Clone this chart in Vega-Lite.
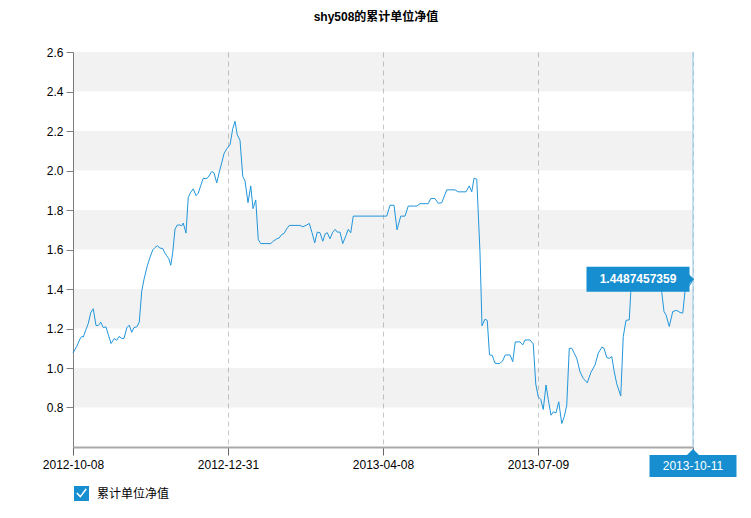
{
  "$schema": "https://vega.github.io/schema/vega-lite/v6.json",
  "width": 620,
  "height": 395,
  "autosize": {"type": "none"},
  "padding": {"left": 73, "top": 52, "right": 58, "bottom": 71},
  "background": "white",
  "title": {"text": "shy508的累计单位净值", "fontSize": 12, "fontWeight": "bold", "font": "Liberation Sans, Noto Sans CJK SC, sans-serif", "color": "#000", "offset": 22, "anchor": "middle", "dx": -7},
  "config": {"view": {"stroke": null}, "font": "Liberation Sans, Noto Sans CJK SC, sans-serif"},
  "datasets": {
    "nav": [
      {"t":0,"v":1.076},{"t":1.5,"v":1.11},{"t":2.8,"v":1.147},{"t":3.5,"v":1.16},{"t":4.1,"v":1.157},{"t":5.2,"v":1.195},{"t":6.1,"v":1.225},{"t":7.1,"v":1.28},{"t":8.1,"v":1.3},{"t":9.2,"v":1.215},
      {"t":10.1,"v":1.215},{"t":11.1,"v":1.232},{"t":12.1,"v":1.205},{"t":13.2,"v":1.208},{"t":14.1,"v":1.17},{"t":15.2,"v":1.124},{"t":16.5,"v":1.149},{"t":17.5,"v":1.14},{"t":18.4,"v":1.16},{"t":19.5,"v":1.149},
      {"t":20.4,"v":1.15},{"t":21.5,"v":1.203},{"t":22.5,"v":1.217},{"t":23.5,"v":1.181},{"t":24.4,"v":1.205},{"t":25.5,"v":1.208},{"t":26.5,"v":1.232},{"t":27.5,"v":1.39},{"t":28.4,"v":1.449},{"t":29.7,"v":1.517},
      {"t":30.8,"v":1.56},{"t":31.9,"v":1.598},{"t":32.8,"v":1.61},{"t":33.7,"v":1.619},{"t":34.8,"v":1.607},{"t":35.9,"v":1.605},{"t":36.8,"v":1.581},{"t":37.5,"v":1.568},{"t":38.3,"v":1.554},{"t":39.1,"v":1.52},
      {"t":39.9,"v":1.585},{"t":40.8,"v":1.703},{"t":41.7,"v":1.724},{"t":42.8,"v":1.724},{"t":43.5,"v":1.72},{"t":44.1,"v":1.734},{"t":45.2,"v":1.683},{"t":46.1,"v":1.864},{"t":47.1,"v":1.89},{"t":48.1,"v":1.907},
      {"t":49.2,"v":1.873},{"t":50.1,"v":1.885},{"t":51.1,"v":1.924},{"t":52.1,"v":1.961},{"t":53.2,"v":1.958},{"t":54.1,"v":1.966},{"t":55.5,"v":1.995},{"t":56.4,"v":1.988},{"t":57.5,"v":1.937},{"t":58.5,"v":1.992},
      {"t":59.5,"v":2.039},{"t":60.4,"v":2.085},{"t":61.5,"v":2.11},{"t":62.8,"v":2.13},{"t":63.9,"v":2.212},{"t":64.8,"v":2.249},{"t":65.7,"v":2.181},{"t":66.8,"v":2.153},{"t":67.9,"v":1.97},{"t":68.8,"v":1.947},
      {"t":70,"v":1.837},{"t":71.1,"v":1.922},{"t":72,"v":1.807},{"t":73.1,"v":1.851},{"t":74.1,"v":1.651},{"t":75.1,"v":1.63},{"t":76.8,"v":1.63},{"t":79.1,"v":1.63},{"t":80.1,"v":1.642},{"t":81.5,"v":1.654},
      {"t":82.5,"v":1.659},{"t":83.5,"v":1.676},{"t":84.4,"v":1.681},{"t":85.5,"v":1.705},{"t":86.5,"v":1.722},{"t":88.8,"v":1.722},{"t":90.8,"v":1.722},{"t":91.9,"v":1.715},{"t":93.2,"v":1.722},{"t":94.5,"v":1.732},
      {"t":95.6,"v":1.685},{"t":96.7,"v":1.634},{"t":97.7,"v":1.688},{"t":98.8,"v":1.685},{"t":99.9,"v":1.642},{"t":100.9,"v":1.68},{"t":101.7,"v":1.685},{"t":102.8,"v":1.654},{"t":103.9,"v":1.688},{"t":104.9,"v":1.702},
      {"t":105.7,"v":1.688},{"t":106.8,"v":1.688},{"t":107.9,"v":1.63},{"t":109.2,"v":1.671},{"t":110.1,"v":1.702},{"t":111.1,"v":1.685},{"t":112.1,"v":1.769},{"t":116,"v":1.769},{"t":120,"v":1.769},{"t":124,"v":1.769},
      {"t":125.5,"v":1.769},{"t":126.8,"v":1.824},{"t":128.4,"v":1.824},{"t":129.6,"v":1.7},{"t":131.1,"v":1.769},{"t":132.8,"v":1.769},{"t":134.1,"v":1.82},{"t":137.5,"v":1.82},{"t":138.8,"v":1.832},{"t":142.1,"v":1.832},
      {"t":143.1,"v":1.858},{"t":144.8,"v":1.858},{"t":146.1,"v":1.834},{"t":147.5,"v":1.837},{"t":149.5,"v":1.902},{"t":152.8,"v":1.902},{"t":154.1,"v":1.892},{"t":157.2,"v":1.892},{"t":158.5,"v":1.922},{"t":159.5,"v":1.892},
      {"t":160.4,"v":1.961},{"t":161.5,"v":1.956},{"t":162.8,"v":1.583},{"t":163.6,"v":1.214},{"t":164.8,"v":1.247},{"t":165.7,"v":1.241},{"t":166.6,"v":1.066},{"t":167.7,"v":1.064},{"t":168.8,"v":1.024},{"t":170.5,"v":1.022},
      {"t":171.8,"v":1.035},{"t":172.9,"v":1.066},{"t":174.8,"v":1.066},{"t":175.9,"v":1.032},{"t":176.9,"v":1.132},{"t":178.8,"v":1.132},{"t":179.9,"v":1.117},{"t":180.8,"v":1.142},{"t":182.8,"v":1.142},{"t":184.1,"v":1.122},
      {"t":185.1,"v":0.919},{"t":186.1,"v":0.854},{"t":187.1,"v":0.841},{"t":188.1,"v":0.79},{"t":189.2,"v":0.914},{"t":190.1,"v":0.841},{"t":191.2,"v":0.761},{"t":192.1,"v":0.778},{"t":193.2,"v":0.773},{"t":194.3,"v":0.829},
      {"t":195.5,"v":0.719},{"t":196.5,"v":0.753},{"t":197.5,"v":0.812},{"t":198.5,"v":1.1},{"t":199.5,"v":1.1},{"t":200.5,"v":1.075},{"t":201.5,"v":1.049},{"t":202.8,"v":0.981},{"t":204.1,"v":0.947},{"t":205.7,"v":0.925},
      {"t":207.1,"v":0.976},{"t":208.8,"v":1.015},{"t":210.1,"v":1.075},{"t":211.5,"v":1.105},{"t":212.4,"v":1.1},{"t":213.5,"v":1.053},{"t":214.5,"v":1.049},{"t":215.5,"v":1.058},{"t":216.5,"v":0.981},{"t":217.5,"v":0.92},
      {"t":219.1,"v":0.858},{"t":220.1,"v":1.159},{"t":221.2,"v":1.241},{"t":222.5,"v":1.244},{"t":223.1,"v":1.383},{"t":224.3,"v":1.46},{"t":226,"v":1.48},{"t":228,"v":1.47},{"t":230,"v":1.49},{"t":232,"v":1.47},
      {"t":234,"v":1.44},{"t":235.5,"v":1.383},{"t":236.4,"v":1.286},{"t":237.2,"v":1.269},{"t":238.5,"v":1.21},{"t":239.9,"v":1.286},{"t":241.5,"v":1.292},{"t":242.8,"v":1.281},{"t":243.9,"v":1.278},{"t":244.8,"v":1.388},
      {"t":245.7,"v":1.41},{"t":246.8,"v":1.42},{"t":248,"v":1.4487457359}
    ],
    "bands": [
      {"lo":0.8,"hi":1.0},{"lo":1.2,"hi":1.4},{"lo":1.6,"hi":1.8},{"lo":2.0,"hi":2.2},{"lo":2.4,"hi":2.6}
    ]
  },
  "data": {"name": "nav"},
  "layer": [
    {
      "data": {"name": "bands"},
      "mark": {"type": "rect", "color": "black", "opacity": 0.05},
      "encoding": {
        "x": {"datum": 0, "type": "quantitative"},
        "x2": {"datum": 248},
        "y": {"field": "lo", "type": "quantitative"},
        "y2": {"field": "hi"}
      }
    },
    {
      "mark": {"type": "line", "strokeWidth": 1},
      "encoding": {
        "x": {
          "field": "t", "type": "quantitative",
          "scale": {"domain": [0, 248], "nice": false, "zero": false},
          "axis": {
            "values": [0, 62, 124, 186, 248],
            "labelExpr": "datum.value == 0 ? '2012-10-08' : datum.value == 62 ? '2012-12-31' : datum.value == 124 ? '2013-04-08' : datum.value == 186 ? '2013-07-09' : ''",
            "title": null, "grid": true, "gridDash": [5, 4], "gridColor": "#c8c8c8",
            "domainColor": "#a9a9a9", "domainWidth": 2, "tickColor": "#666", "tickSize": 8,
            "labelFontSize": 12, "labelColor": "#000", "labelPadding": 4, "labelFlush": false, "labelOverlap": false
          }
        },
        "y": {
          "field": "v", "type": "quantitative",
          "scale": {"domain": [0.6, 2.6], "nice": false, "zero": false},
          "axis": {
            "values": [0.8, 1.0, 1.2, 1.4, 1.6, 1.8, 2.0, 2.2, 2.4, 2.6], "format": ".1f",
            "title": null, "grid": false, "domainColor": "#808080", "tickColor": "#808080", "tickSize": 7,
            "labelPadding": 3, "labelFontSize": 12, "labelColor": "#000"
          }
        },
        "color": {
          "datum": "累计单位净值",
          "scale": {"range": ["#2196db"]},
          "legend": {
            "orient": "none", "legendX": 1, "legendY": 434, "title": null, "padding": 0,
            "symbolType": "M-1,-1H1V1H-1Z M-0.7,0L-0.15,0.55L0.7,-0.55L0.55,-0.7L-0.15,0.25L-0.55,-0.15Z",
            "symbolSize": 225, "symbolFillColor": "#168ecf", "symbolStrokeWidth": 0,
            "labelFontSize": 12, "labelColor": "#000", "labelOffset": 8,
            "encode": {"symbols": {"update": {"fill": {"value": "#168ecf"}, "stroke": {"value": "transparent"}, "opacity": {"value": 1}}}}
          }
        }
      }
    },
    {
      "transform": [{"filter": "datum.t == 248"}],
      "mark": {"type": "rule", "color": "#8ec5ea", "strokeWidth": 1},
      "encoding": {"x": {"field": "t", "type": "quantitative"}}
    },
    {
      "transform": [{"filter": "datum.t == 248"}],
      "mark": {"type": "rect", "color": "#168ecf", "width": 103, "height": 25, "xOffset": -55, "opacity": 1},
      "encoding": {"x": {"field": "t", "type": "quantitative"}, "y": {"field": "v", "type": "quantitative"}}
    },
    {
      "transform": [{"filter": "datum.t == 248"}],
      "mark": {"type": "point", "shape": "M0,-1L1,0L0,1Z", "size": 144, "filled": true, "color": "#168ecf", "opacity": 1, "xOffset": -5},
      "encoding": {"x": {"field": "t", "type": "quantitative"}, "y": {"field": "v", "type": "quantitative"}}
    },
    {
      "transform": [{"filter": "datum.t == 248"}],
      "mark": {"type": "text", "color": "white", "fontWeight": "bold", "fontSize": 12, "dx": -55, "align": "center", "baseline": "middle"},
      "encoding": {"x": {"field": "t", "type": "quantitative"}, "y": {"field": "v", "type": "quantitative"}, "text": {"field": "v", "type": "nominal"}}
    },
    {
      "transform": [{"filter": "datum.t == 248"}],
      "mark": {"type": "rect", "color": "#168ecf", "width": 87, "height": 22, "yOffset": 19, "opacity": 1},
      "encoding": {"x": {"field": "t", "type": "quantitative"}, "y": {"datum": 0.6, "type": "quantitative"}}
    },
    {
      "transform": [{"filter": "datum.t == 248"}],
      "mark": {"type": "point", "shape": "M-1,0L0,-1L1,0Z", "size": 144, "filled": true, "color": "#168ecf", "opacity": 1, "yOffset": 8},
      "encoding": {"x": {"field": "t", "type": "quantitative"}, "y": {"datum": 0.6, "type": "quantitative"}}
    },
    {
      "transform": [{"filter": "datum.t == 248"}],
      "mark": {"type": "text", "color": "white", "fontSize": 12, "dy": 19, "align": "center", "baseline": "middle"},
      "encoding": {"x": {"field": "t", "type": "quantitative"}, "y": {"datum": 0.6, "type": "quantitative"}, "text": {"value": "2013-10-11"}}
    }
  ]
}
